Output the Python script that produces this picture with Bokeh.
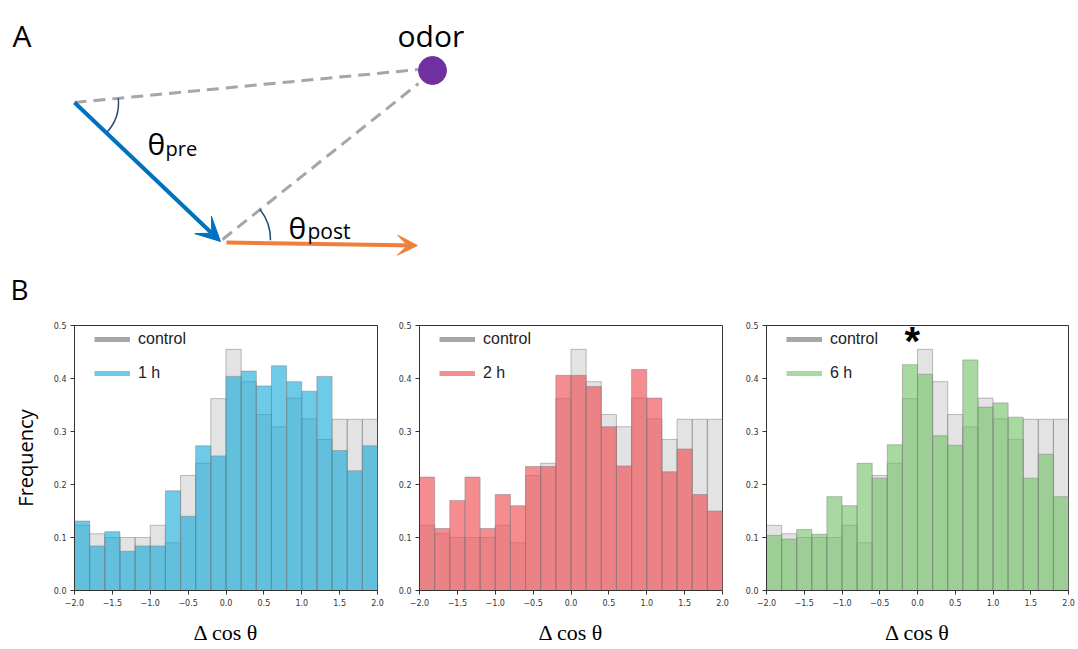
import numpy as np
from bokeh.plotting import figure
from bokeh.layouts import column, row
from bokeh.models import (Range1d, Label, Arrow, VeeHead, FixedTicker, Legend,
                          LegendItem, ColumnDataSource, CustomJSTickFormatter)
from bokeh.embed import file_html
from bokeh.resources import INLINE

# ---------------- data ----------------
bin_left = [-2.0, -1.8, -1.6, -1.4, -1.2, -1.0, -0.8, -0.6, -0.4, -0.2,
            0.0, 0.2, 0.4, 0.6, 0.8, 1.0, 1.2, 1.4, 1.6, 1.8]
bin_width = 0.2
control = [0.123, 0.107, 0.100, 0.100, 0.100, 0.123, 0.090, 0.217, 0.240, 0.362,
           0.455, 0.394, 0.332, 0.309, 0.363, 0.324, 0.285, 0.323, 0.323, 0.323]
freq_1h = [0.131, 0.084, 0.111, 0.074, 0.084, 0.084, 0.188, 0.140, 0.273, 0.254,
           0.404, 0.414, 0.386, 0.424, 0.394, 0.376, 0.404, 0.264, 0.226, 0.273]
freq_2h = [0.214, 0.117, 0.170, 0.214, 0.117, 0.181, 0.160, 0.234, 0.234, 0.406,
           0.406, 0.385, 0.309, 0.235, 0.417, 0.363, 0.224, 0.267, 0.181, 0.150]
freq_6h = [0.104, 0.097, 0.115, 0.106, 0.177, 0.160, 0.240, 0.212, 0.275, 0.426,
           0.408, 0.292, 0.274, 0.435, 0.346, 0.354, 0.327, 0.212, 0.257, 0.177]
series_labels = ["1 h", "2 h", "6 h"]
series_colors = ["#0DA8D9", "#EE4F55", "#6EC061"]
series_alpha = [0.6, 0.65, 0.6]
x_ticks = [-2.0, -1.5, -1.0, -0.5, 0.0, 0.5, 1.0, 1.5, 2.0]
y_ticks = [0.0, 0.1, 0.2, 0.3, 0.4, 0.5]

AX = "#333333"


def make_hist(vals, color, alpha, label, frame_w, left_b, right_b, ylabel=None, star=False):
    p = figure(frame_width=frame_w, frame_height=265,
               x_range=Range1d(-2, 2), y_range=Range1d(0, 0.5),
               min_border_left=left_b, min_border_right=right_b,
               min_border_top=17, min_border_bottom=59,
               toolbar_location=None, output_backend="svg")
    p.xgrid.visible = False
    p.ygrid.visible = False
    p.outline_line_color = AX
    right = [l + bin_width for l in bin_left]
    src_c = ColumnDataSource(dict(left=bin_left, right=right, top=control))
    src_s = ColumnDataSource(dict(left=bin_left, right=right, top=vals))
    p.quad(left="left", right="right", bottom=0, top="top", source=src_c,
           fill_color="#808080", fill_alpha=0.22, line_color="#808080", line_alpha=0.5, line_width=1)
    p.quad(left="left", right="right", bottom=0, top="top", source=src_s,
           fill_color=color, fill_alpha=alpha, line_color="#808080", line_alpha=0.5, line_width=1)
    # legend proxies (kept outside the visible ranges)
    r1 = p.line(x=[-3, -2.5], y=[-1, -1], line_color="#808080", line_alpha=0.7, line_width=5)
    r2 = p.line(x=[-3, -2.5], y=[-1, -1], line_color=color, line_alpha=alpha, line_width=5)
    leg = Legend(items=[LegendItem(label="control", renderers=[r1]),
                        LegendItem(label=label, renderers=[r2])],
                 location=(20, 207), border_line_color=None, background_fill_alpha=0,
                 padding=0, margin=0, spacing=14, glyph_width=36, glyph_height=20,
                 label_height=20, label_standoff=8, label_text_font="Liberation Sans",
                 label_text_font_size="16px", label_text_color="#222222")
    p.add_layout(leg)

    p.xaxis.ticker = FixedTicker(ticks=x_ticks)
    p.yaxis.ticker = FixedTicker(ticks=y_ticks)
    p.xaxis.formatter = CustomJSTickFormatter(code="return tick.toFixed(1).replace('-', '\u2212')")
    p.yaxis.formatter = CustomJSTickFormatter(code="return tick.toFixed(1)")
    for ax in (p.xaxis[0], p.yaxis[0]):
        ax.major_tick_out = 4
        ax.major_tick_in = 0
        ax.minor_tick_line_color = None
        ax.axis_line_color = AX
        ax.major_tick_line_color = AX
        ax.major_label_text_font = "DejaVu Sans"
        ax.major_label_text_font_size = "8px"
        ax.major_label_text_color = AX
        ax.major_label_standoff = 4
    p.xaxis.axis_label = "Δ cos θ"
    p.xaxis.axis_label_text_font = "Liberation Serif"
    p.xaxis.axis_label_text_font_size = "22px"
    p.xaxis.axis_label_text_font_style = "normal"
    p.xaxis.axis_label_text_color = "black"
    p.xaxis.axis_label_standoff = 11
    if ylabel:
        p.yaxis.axis_label = ylabel
        p.yaxis.axis_label_text_font = "Open Sans"
        p.yaxis.axis_label_text_font_size = "20px"
        p.yaxis.axis_label_text_font_style = "normal"
        p.yaxis.axis_label_text_color = "black"
        p.yaxis.axis_label_standoff = 12
    if star:
        p.add_layout(Label(x=-0.07, y=0.47, text="*", text_align="center",
                           text_baseline="alphabetic", text_font="Liberation Sans",
                           text_font_size="40px", text_font_style="bold", text_color="black"))
    return p


f1 = make_hist(freq_1h, series_colors[0], series_alpha[0], series_labels[0], 303, 74, 13, ylabel="Frequency")
f2 = make_hist(freq_2h, series_colors[1], series_alpha[1], series_labels[1], 303, 29, 13)
f3 = make_hist(freq_6h, series_colors[2], series_alpha[2], series_labels[2], 302, 31, 10, star=True)

# ---------------- schematic (panel A) ----------------
d = figure(width=1078, height=308, x_range=Range1d(0, 1078), y_range=Range1d(0, 308),
           x_axis_type=None, y_axis_type=None, min_border=0, toolbar_location=None,
           output_backend="svg", outline_line_color=None)
GRAY = "#A6A6A6"
d.line([74, 418], [206, 239], line_color=GRAY, line_width=3, line_dash="12 7")
d.line([222, 418], [69, 225], line_color=GRAY, line_width=3, line_dash="12 7")
d.scatter([432], [238], size=28, marker="circle", fill_color="#7030A0", line_color="#7030A0")
d.arc(x=[74], y=[206], radius=44, start_angle=np.radians(-44), end_angle=np.radians(5.5),
      line_color="#1F4E79", line_width=1.5)
d.arc(x=[222], y=[69], radius=48, start_angle=np.radians(-1), end_angle=np.radians(39),
      line_color="#1F4E79", line_width=1.5)
d.add_layout(Arrow(x_start=74, y_start=206, x_end=220, y_end=67, line_color="#0070C0", line_width=4,
                   end=VeeHead(size=24, fill_color="#0070C0", line_color="#0070C0")))
d.add_layout(Arrow(x_start=226, y_start=66, x_end=417, y_end=63, line_color="#F07F3C", line_width=4,
                   end=VeeHead(size=20, fill_color="#F07F3C", line_color="#F07F3C")))
for (x, y, t, s) in [(12, 273, "A", "30px"), (397, 273, "odor", "30px"), (10, 20, "B", "28px"),
                     (147, 165, "θ", "30px"), (165, 160, "pre", "20px"),
                     (288, 81, "θ", "30px"), (307, 78, "post", "21px")]:
    d.add_layout(Label(x=x, y=y, text=t, text_font="Open Sans", text_font_size=s,
                       text_baseline="alphabetic", text_color="black"))

layout = column(d, row(f1, f2, f3))
open("out.html", "w").write(file_html(layout, INLINE))
